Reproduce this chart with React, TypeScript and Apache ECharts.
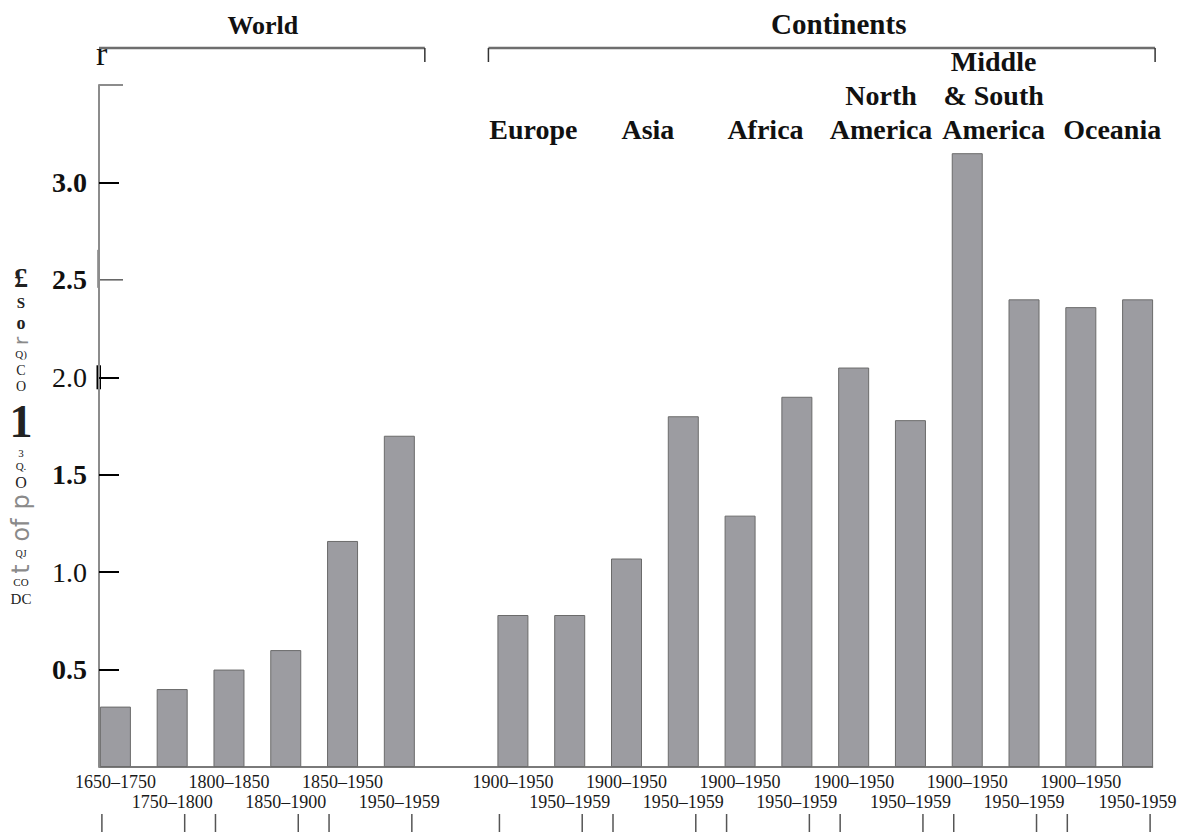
import React, { useEffect, useRef } from 'react';
import * as echarts from 'echarts';

// ---- data ----
const worldPeriods = ['1650–1750', '1750–1800', '1800–1850', '1850–1900', '1850–1950', '1950–1959'];
const worldRates = [0.31, 0.4, 0.5, 0.6, 1.16, 1.7];

const continentNames = ['Europe', 'Asia', 'Africa', 'North\nAmerica', 'Middle\n& South\nAmerica', 'Oceania'];
const continentPeriods = [
  ['1900–1950', '1950–1959'],
  ['1900–1950', '1950–1959'],
  ['1900–1950', '1950–1959'],
  ['1900–1950', '1950–1959'],
  ['1900–1950', '1950–1959'],
  ['1900–1950', '1950-1959'],
];
const continentRates = [
  [0.78, 0.78],
  [1.07, 1.8],
  [1.29, 1.9],
  [2.05, 1.78],
  [3.15, 2.4],
  [2.36, 2.4],
];

const yLabelValues = [0.5, 1.0, 1.5, 2.0, 2.5, 3.0];
const yBoldTickValues = [0.5, 1.0, 1.5, 2.0, 3.0];
const yThinTickValue = 2.5;
const boldTickLabels = ['0.5', '1.5', '2.5', '3.0'];

const groupTitles = ['World', 'Continents'];

// ---- derived ----
const CONT_START = worldPeriods.length + 1;
const categories: string[] = [...worldPeriods, '', ...continentPeriods.flat()];
const values: (number | null)[] = [...worldRates, null, ...continentRates.flat()];

const SERIF = '"Liberation Serif", "Times New Roman", serif';
const SANS = '"DejaVu Sans", sans-serif';
const BAR_W = 31;
const NAME_NUDGE = [-8, -7, -3, -1, -2, 3];

export default function App() {
  const ref = useRef<HTMLDivElement>(null);
  useEffect(() => {
    const el = ref.current!;
    const chart = echarts.init(el, null, { renderer: 'svg' });
    chart.setOption({
      animation: false,
      grid: { left: 87, right: 17, top: 85, bottom: 65 },
      xAxis: {
        type: 'category',
        data: categories,
        axisLine: { show: false },
        axisTick: { show: false },
        axisLabel: {
          interval: 0,
          hideOverlap: false,
          margin: 5,
          fontFamily: SERIF,
          fontSize: 18,
          lineHeight: 20,
          color: '#1a1a1a',
          formatter: (v: string, i: number) => {
            if (!v) return '';
            const pos = i < worldPeriods.length ? i : i - CONT_START;
            return pos % 2 === 0 ? v : '\n' + v;
          },
        },
      },
      yAxis: {
        type: 'value',
        min: 0,
        max: 3.5,
        interval: 0.5,
        offset: -12,
        splitLine: { show: false },
        axisLine: { show: true, lineStyle: { color: '#8c8c8c', width: 2 } },
        axisTick: {
          show: true,
          inside: true,
          length: 20,
          customValues: yBoldTickValues,
          lineStyle: { color: '#000', width: 2 },
        },
        axisLabel: {
          customValues: yLabelValues,
          margin: 12,
          formatter: (v: number) => {
            const s = v.toFixed(1);
            return boldTickLabels.includes(s) ? `{b|${s}}` : `{r|${s}}`;
          },
          rich: {
            b: { fontFamily: SERIF, fontWeight: 'bold', fontSize: 28, color: '#111' },
            r: { fontFamily: SERIF, fontWeight: 'normal', fontSize: 28, color: '#111' },
          },
        },
      },
      series: [
        {
          type: 'bar',
          data: values,
          barWidth: BAR_W,
          itemStyle: { color: '#9c9ca1', borderColor: '#6b6b6b', borderWidth: 1 },
        },
      ],
    });

    const px = (i: number, v: number) => chart.convertToPixel({ gridIndex: 0 }, [i, v]) as number[];
    const axisX = px(0, 0)[0] - 56.79 / 2 + 12;
    const y0 = px(0, 0)[1];
    const yTop = px(0, 3.5)[1];
    const yAt = (v: number) => px(0, v)[1];
    const cx = (i: number) => px(i, 0)[0];
    const last = categories.length - 1;

    const g: any[] = [];
    const line = (x1: number, y1: number, x2: number, y2: number, color: string, w: number) =>
      g.push({ type: 'line', shape: { x1, y1, x2, y2 }, style: { stroke: color, lineWidth: w }, silent: true });

    // baseline
    line(axisX, y0, cx(last) + BAR_W / 2, y0, '#7a7a7a', 2);
    // top tick of y axis
    line(axisX, yTop, axisX + 24, yTop, '#8c8c8c', 2);
    // thin tick at 2.5 and marks on the axis as printed
    line(axisX + 1, yAt(yThinTickValue), axisX + 24, yAt(yThinTickValue), '#333', 1.2);
    line(axisX - 1, yAt(yThinTickValue) - 30, axisX - 1, yAt(yThinTickValue) + 8, '#444', 1);
    g.push({ type: 'rect', shape: { x: axisX - 2.5, y: yAt(2.0) - 12, width: 4.5, height: 24 }, style: { fill: '#000' }, silent: true });

    // brackets
    const bY = 48;
    const wL = axisX;
    const wR = cx(worldPeriods.length - 1) + BAR_W / 2 + 10;
    line(wL, bY, wR, bY, '#6e6e6e', 2.5);
    line(wR, bY, wR, bY + 14, '#333', 1.5);
    g.push({ type: 'text', style: { text: 'r', x: wL - 3, y: 70, fontFamily: SERIF, fontSize: 34, fill: '#111', textVerticalAlign: 'bottom' } });
    const cL = cx(CONT_START) - BAR_W / 2 - 9;
    const cR = cx(last) + BAR_W / 2 + 2;
    line(cL, bY, cR, bY, '#6e6e6e', 2.5);
    line(cL, bY, cL, bY + 14, '#333', 1.5);
    line(cR, bY, cR, bY + 14, '#333', 1.5);

    g.push({ type: 'text', style: { text: groupTitles[0], x: (wL + wR) / 2 + 1, y: 38, textAlign: 'center', textVerticalAlign: 'bottom', fontFamily: SERIF, fontWeight: 'bold', fontSize: 26, fill: '#111' } });
    g.push({ type: 'text', style: { text: groupTitles[1], x: (cL + cR) / 2 + 17, y: 38, textAlign: 'center', textVerticalAlign: 'bottom', fontFamily: SERIF, fontWeight: 'bold', fontSize: 29, fill: '#111' } });

    // continent names
    continentNames.forEach((name, k) => {
      const a = CONT_START + 2 * k;
      const c = (cx(a) + cx(a + 1)) / 2;
      g.push({ type: 'text', style: { text: name, x: c + NAME_NUDGE[k], y: 146, textAlign: 'center', textVerticalAlign: 'bottom', lineHeight: 34, fontFamily: SERIF, fontWeight: 'bold', fontSize: 28, fill: '#111' } });
    });

    // pair ticks under labels
    const pairStarts: number[] = [];
    for (let i = 0; i < worldPeriods.length; i += 2) pairStarts.push(i);
    for (let k = 0; k < continentNames.length; k++) pairStarts.push(CONT_START + 2 * k);
    pairStarts.forEach((i) => {
      const l = cx(i) - BAR_W / 2 + 2;
      const r = cx(i + 1) + BAR_W / 2 - 3;
      line(l, 814, l, 832, '#555', 1.5);
      line(r, 814, r, 832, '#555', 1.5);
    });

    // garbled y-axis title column (as printed)
    const up = (text: string, y: number, size: number, bold = false) =>
      g.push({ type: 'text', style: { text, x: 21, y, textAlign: 'center', textVerticalAlign: 'middle', lineHeight: Math.round(size * 0.9), fontFamily: SERIF, fontWeight: bold ? 'bold' : 'normal', fontSize: size, fill: '#222' } });
    const rot = (text: string, y: number, size: number) =>
      g.push({ type: 'text', x: 21, y, rotation: Math.PI / 2, style: { text, x: 0, y: 0, textAlign: 'center', textVerticalAlign: 'middle', lineHeight: Math.round(size * 0.9), fontFamily: SANS, fontSize: size, fill: '#8a8a8a' } });
    up('£', 277, 28, true);
    up('S', 303, 15, true);
    up('o', 323, 18, true);
    rot('r', 341, 20);
    up('Q)', 354, 11);
    up('C', 370, 14);
    up('O', 386, 14);
    up('1', 421, 46, true);
    up('3', 453, 11);
    up('Q.', 466, 11);
    up('O', 482, 16);
    rot('p', 502, 24);
    rot('of', 530, 24);
    up('QJ', 553, 10);
    rot('t', 569, 24);
    up('CO', 582, 11);
    up('DC', 599, 15);

    chart.setOption({ graphic: g });
    return () => chart.dispose();
  }, []);
  return <div ref={ref} style={{ position: 'fixed', left: 0, top: 0, width: 1183, height: 832, background: '#fff' }} />;
}
